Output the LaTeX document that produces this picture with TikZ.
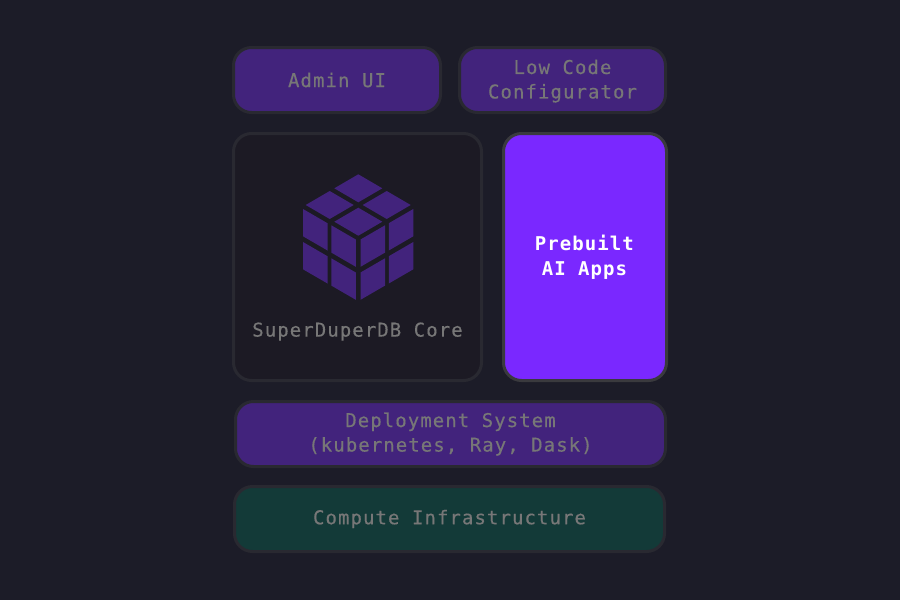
\documentclass[tikz,border=0pt]{standalone}
\usepackage{fontspec}
\setmonofont[LetterSpace=5.6, FakeBold=0.35, BoldFeatures={FakeBold=0}]{DejaVu Sans Mono}
\definecolor{bgdark}{HTML}{1C1C28}
\definecolor{layerpurple}{HTML}{42237C}
\definecolor{layergreen}{HTML}{133A38}
\definecolor{brightpurple}{HTML}{7A28FF}
\definecolor{coredark}{HTML}{1C1A24}
\definecolor{edgedark}{HTML}{292931}
\definecolor{edgelight}{HTML}{3A3A3E}
\definecolor{textgray}{HTML}{777777}
\tikzset{
    layerbox/.style={draw=edgedark, line width=3pt, rounded corners=18pt, align=center,
        text=textgray, font=\ttfamily\fontsize{19}{24.5}\selectfont, inner sep=0pt},
    purplebox/.style={layerbox, fill=layerpurple},
}
\begin{document}
\begin{tikzpicture}[x=1pt, y=-1pt]
    \fill[bgdark] (0,0) rectangle (900,600);
    \useasboundingbox (0,0) rectangle (900,600);
    \node[purplebox, minimum width=207pt, minimum height=65pt] (adminui) at (337,80) {Admin UI};
    \node[purplebox, minimum width=206pt, minimum height=65pt, text depth=2pt] (lowcode) at (562.5,80) {Low Code\\Configurator};
    \node[layerbox, fill=coredark, minimum width=248pt, minimum height=247pt] (core) at (357.5,257) {};
    \node[layerbox, draw=edgelight, fill=brightpurple, text=white, minimum width=163pt, minimum height=247pt] (apps) at (585,257) {\textbf{Prebuilt}\\\textbf{AI Apps}};
    \node[purplebox, minimum width=430pt, minimum height=65pt] (deploy) at (450.5,434) {Deployment System\\(kubernetes, Ray, Dask)};
    \node[layerbox, fill=layergreen, minimum width=430pt, minimum height=65pt] (compute) at (449.5,519) {Compute Infrastructure};
    \node[layerbox, draw=none, fill=none] (corelabel) at (357.5,331.5) {SuperDuperDB Core};
    % cube
    \foreach \x/\y in {358.3/188.3, 329.7/205, 386.7/205, 358.3/221.7} {
            \fill[layerpurple] (\x-24,\y) -- (\x,\y-14) -- (\x+24,\y) -- (\x,\y+14) -- cycle;
        }
    \foreach \x/\y in {303/209, 303/242, 331.3/225.3, 331.3/258.3} {
            \fill[layerpurple] (\x,\y) -- (\x+24.5,\y+14.2) -- (\x+24.5,\y+41.5) -- (\x,\y+27.3) -- cycle;
        }
    \foreach \x/\y in {413.3/209, 413.3/242, 385/225.3, 385/258.3} {
            \fill[layerpurple] (\x,\y) -- (\x-24.5,\y+14.2) -- (\x-24.5,\y+41.5) -- (\x,\y+27.3) -- cycle;
        }
\end{tikzpicture}
\end{document}
